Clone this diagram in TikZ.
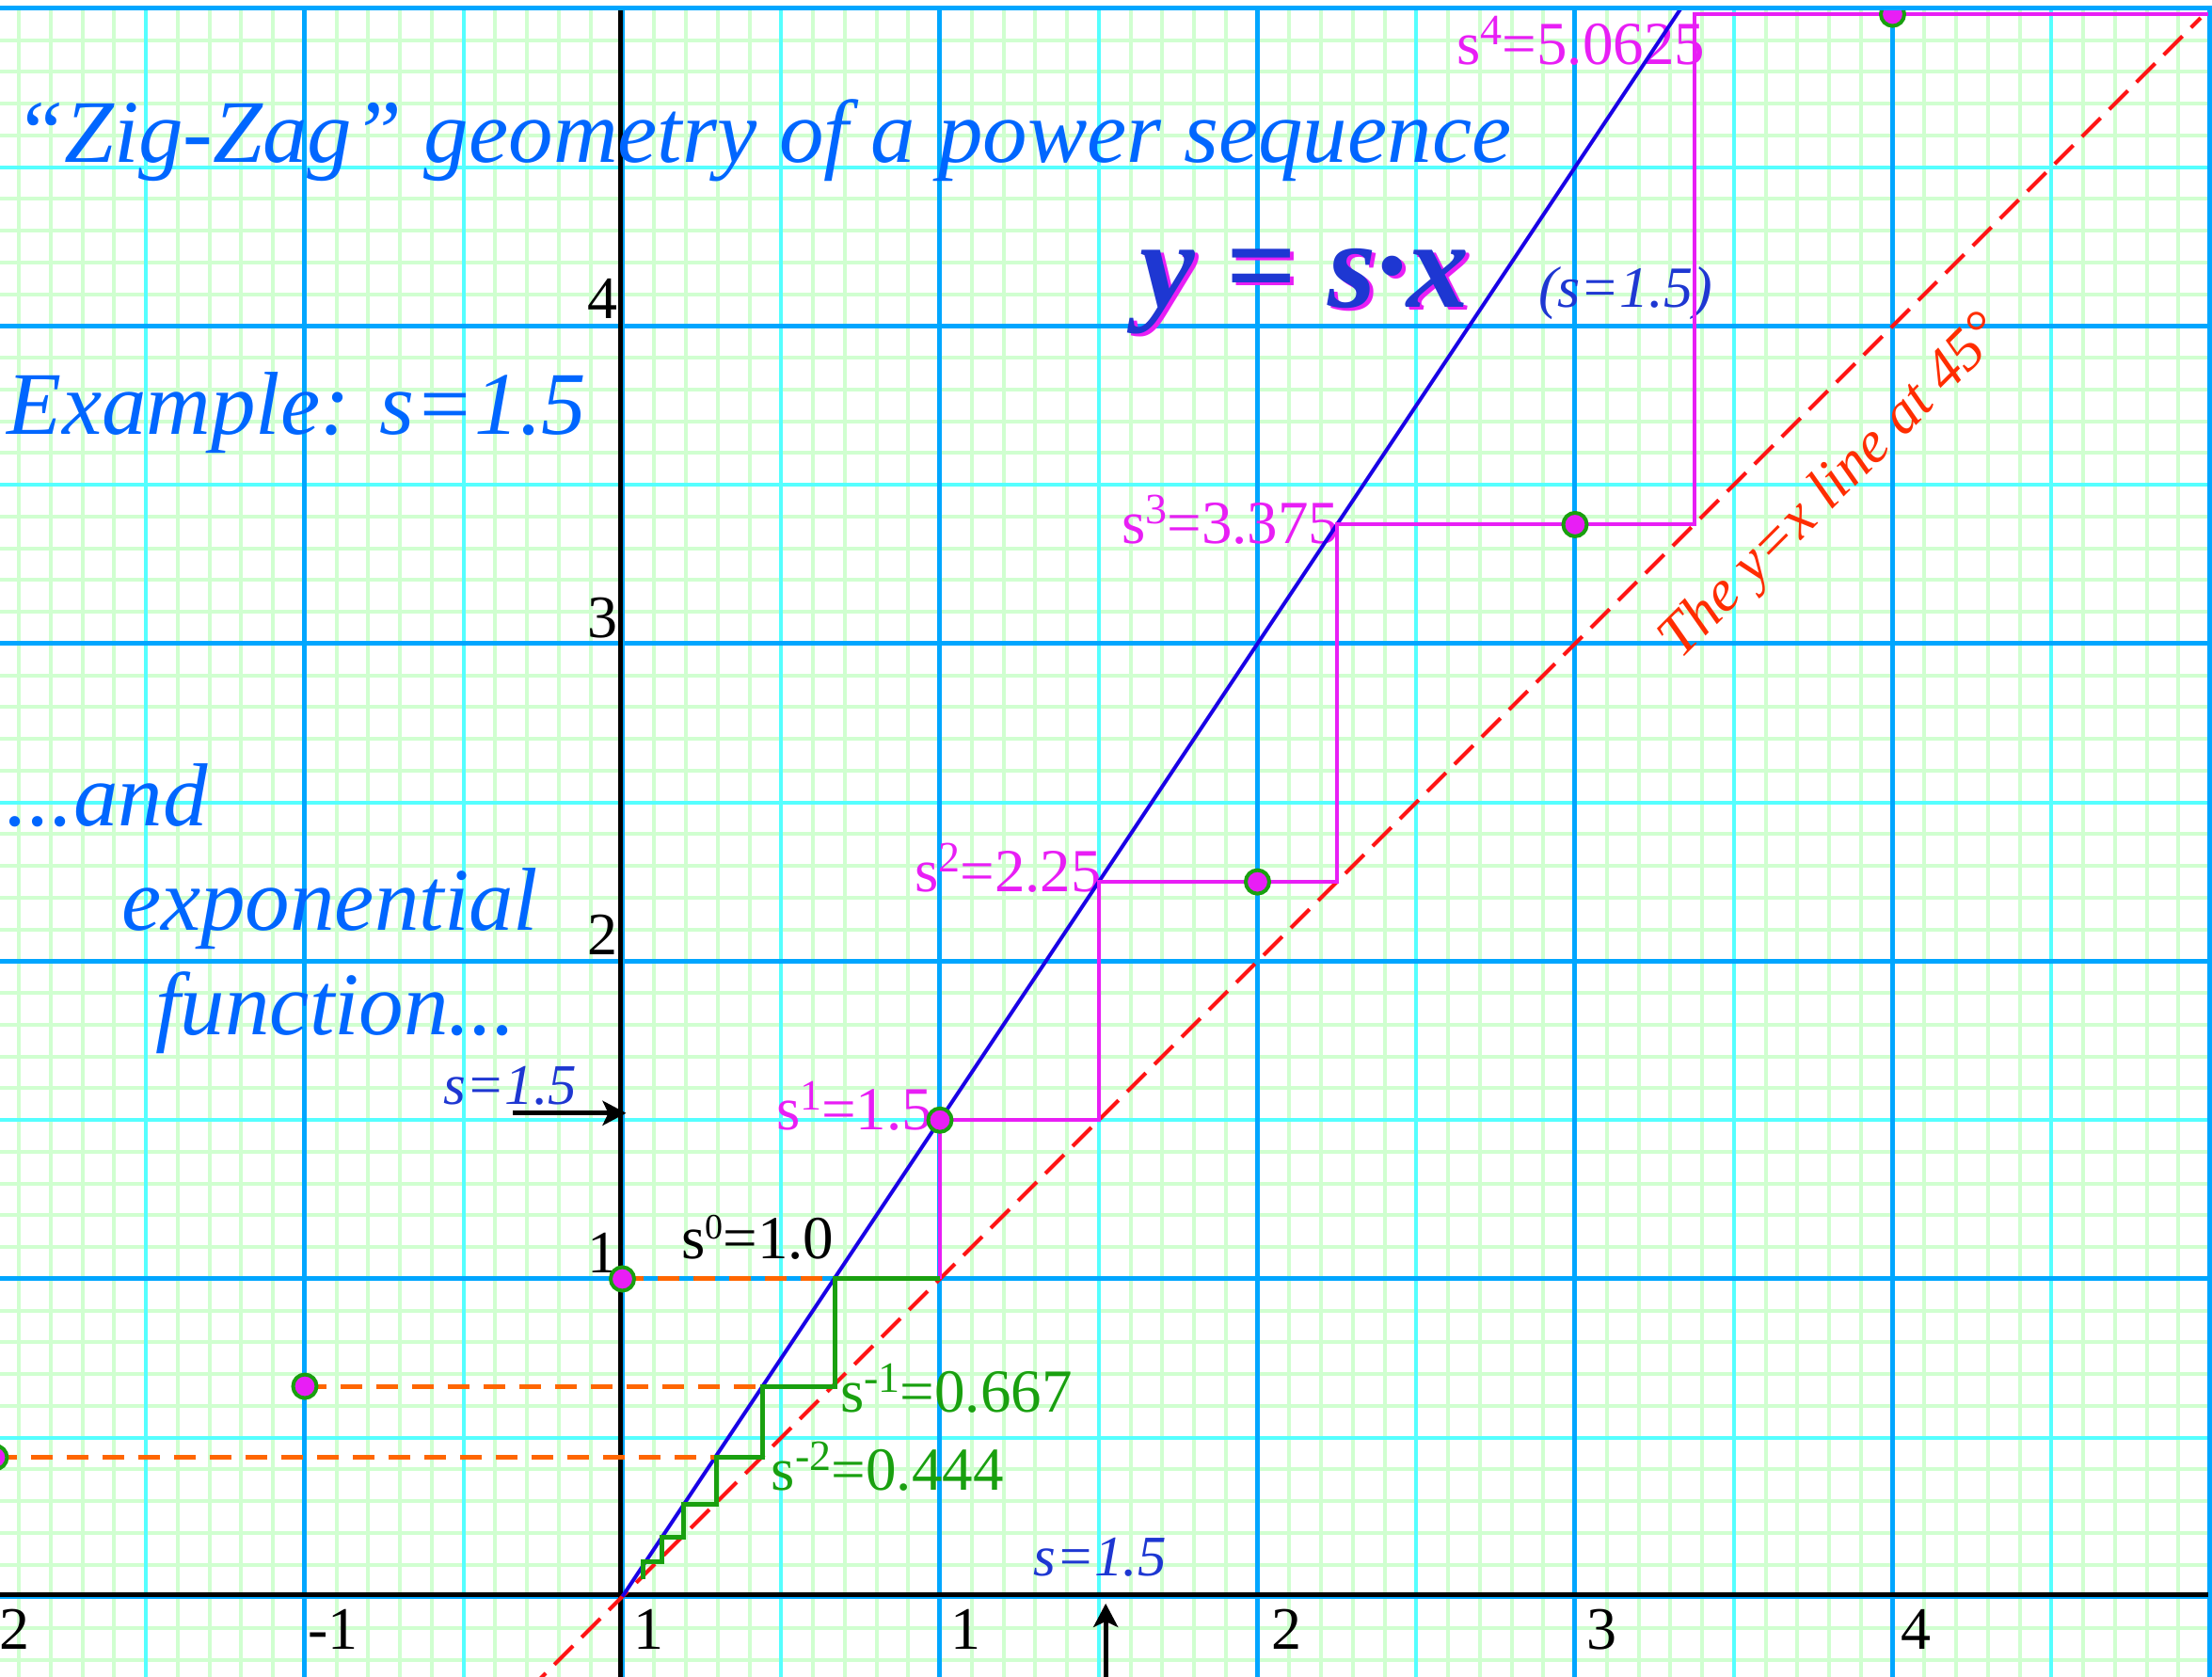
\documentclass[tikz,border=0pt]{standalone}
\usepackage{fontspec}
\setmainfont{Liberation Serif}
\usetikzlibrary{arrows.meta}
\definecolor{minorg}{RGB}{208,255,208}
\definecolor{halfc}{RGB}{85,255,255}
\definecolor{majb}{RGB}{0,166,255}
\definecolor{titleb}{RGB}{0,102,255}
\definecolor{darkb}{RGB}{30,55,210}
\definecolor{linb}{RGB}{25,0,230}
\definecolor{mag}{RGB}{232,30,245}
\definecolor{grn}{RGB}{25,160,15}
\definecolor{org}{RGB}{255,102,0}
\definecolor{redd}{RGB}{255,20,20}
\definecolor{txtred}{RGB}{255,45,0}
\newcommand{\supr}[1]{\raisebox{21pt}{\fontsize{46pt}{46pt}\selectfont #1}}
\newcommand{\supsmall}[1]{\raisebox{21pt}{\fontsize{38pt}{38pt}\selectfont #1}}
\tikzset{
  ttl/.style={inner sep=0pt, anchor=base west, text=titleb, font=\fontsize{95pt}{95pt}\selectfont\itshape},
  lab/.style={inner sep=0pt, anchor=base west, font=\fontsize{65pt}{65pt}\selectfont},
  axlab/.style={inner sep=0pt, text=black, font=\fontsize{64pt}{64pt}\selectfont},
  sval/.style={inner sep=0pt, anchor=base west, text=darkb, font=\fontsize{61pt}{61pt}\selectfont\itshape},
  eqn/.style={inner sep=0pt, anchor=base west, font=\fontsize{132pt}{132pt}\selectfont\bfseries\itshape},
  seqdot/.style={circle, fill=mag, draw=grn, line width=4pt, minimum size=25pt, inner sep=0pt},
  zig/.style={mag, line width=4pt},
  stair/.style={grn, line width=5pt},
  proj/.style={org, line width=5pt, dash pattern=on 23pt off 15pt},
  diag/.style={redd, line width=4pt, dash pattern=on 28pt off 13pt},
  sarrow/.style={black, line width=5pt, -{Stealth[length=25pt,width=26pt,inset=6pt]}}
}
\begin{document}
\begin{tikzpicture}[x=337.5pt,y=337.5pt]
\useasboundingbox[fill=white] (-1.96,-0.2533) rectangle (5.006,5.0267);
\begin{scope}
\clip (-2,-0.3) rectangle (5,5);
% grid
\draw[minorg, line width=4pt] (-2,-0.3) grid[step=0.1] (5,5);
\draw[halfc, line width=4pt] (-2,-0.3) grid[step=0.5] (5,5);
\draw[majb, line width=5pt] (-2,-0.3) grid[step=1] (5,5);
% axes
\draw[black, line width=5pt] (-2,0.006) -- (5,0.006);
\draw[black, line width=5pt] (-0.006,-0.3) -- (-0.006,5);
\end{scope}

% texts
\node[ttl] (title) at (-1.915,4.517) {“Zig-Zag” geometry of a power sequence};
\node[ttl] (example) at (-1.937,3.658) {Example: s=1.5};
\node[ttl] (and) at (-1.94,2.428) {...and};
\node[ttl] (expo) at (-1.578,2.099) {exponential};
\node[ttl] (func) at (-1.47,1.768) {function...};

\node[eqn, text=mag, xshift=4pt, yshift=-3pt] (eqshadow) at (1.63,4.058) {y {\upshape =} s·x};
\node[eqn, text=darkb] (eq) at (1.63,4.058) {y {\upshape =} s·x};
\node[sval, font=\fontsize{62pt}{62pt}\selectfont\itshape] (spar) at (2.884,4.058) {(s=1.5)};

\node[sval] (sleft) at (-0.563,1.551) {s=1.5};
\node[sval] (sbot) at (1.294,0.064) {s=1.5};

\node[inner sep=0pt, anchor=base, rotate=45, text=txtred, font=\fontsize{63pt}{63pt}\selectfont\itshape] (diaglab) at (3.845,3.458) {The y=x line at 45°};

% axis labels
\node[axlab, anchor=base west] (xm2) at (-1.962,-0.167) {2};
\node[axlab, anchor=base west] (xm1) at (-0.99,-0.167) {-1};
\node[axlab, anchor=base west] (x0) at (0.034,-0.167) {1};
\node[axlab, anchor=base west] (x1) at (1.033,-0.167) {1};
\node[axlab, anchor=base west] (x2) at (2.043,-0.167) {2};
\node[axlab, anchor=base west] (x3) at (3.036,-0.167) {3};
\node[axlab, anchor=base west] (x4) at (4.025,-0.167) {4};
\node[axlab, anchor=base east] (y1) at (-0.015,1.02) {1};
\node[axlab, anchor=base east] (y2) at (-0.015,2.022) {2};
\node[axlab, anchor=base east] (y3) at (-0.015,3.02) {3};
\node[axlab, anchor=base east] (y4) at (-0.015,4.025) {4};

% sequence labels
\node[lab, text=black] (s0) at (0.185,1.065) {s\supsmall{0}=1.0};
\node[lab, text=mag] (s1) at (0.484,1.471) {s\supr{1}=1.5};
\node[lab, text=mag] (s2) at (0.92,2.218) {s\supr{2}=2.25};
\node[lab, text=mag] (s3) at (1.572,3.316) {s\supr{3}=3.375};
\node[lab, text=mag] (s4) at (2.627,4.825) {s\supr{4}=5.0625};
\node[lab, text=grn] (sm1) at (0.686,0.582) {s\supr{-1}=0.667};
\node[lab, text=grn] (sm2) at (0.469,0.336) {s\supr{-2}=0.444};

\begin{scope}
\clip (-2,-0.3) rectangle (5,5);
% y = x
\draw[diag] (-0.3,-0.3) -- (4.97,4.97);
% y = 1.5 x
\draw[linb, line width=4pt] (0,0) -- (3.4,5.1);
% zig-zag upward
\draw[zig] (1,1) -- (1,1.5) -- (1.5,1.5) -- (1.5,2.25) -- (2.25,2.25) -- (2.25,3.375) -- (3.375,3.375) -- (3.375,4.982) -- (5,4.982);
% orange projections
\draw[proj] (0,1) -- (0.667,1);
\draw[proj] (-1,0.662) -- (0.442,0.662);
\draw[proj] (-1.975,0.438) -- (0.295,0.438);
% staircase downward
\draw[stair] (1,1) -- (0.669,1) -- (0.669,0.662) -- (0.442,0.662) -- (0.442,0.438) -- (0.295,0.438) -- (0.295,0.289) -- (0.192,0.289) -- (0.192,0.187) -- (0.123,0.187) -- (0.123,0.11) -- (0.066,0.11) -- (0.066,0.055);
% points (n, s^n)
\node[seqdot] (p0) at (0,1) {};
\node[seqdot] (p1) at (1,1.5) {};
\node[seqdot] (p2) at (2,2.25) {};
\node[seqdot] (p3) at (3,3.375) {};
\node[seqdot] (p4) at (4,4.982) {};
\node[seqdot] (pm1) at (-1,0.662) {};
\node[seqdot] (pm2) at (-1.975,0.438) {};
\end{scope}
% frame
\draw[majb, line width=5pt] (-2,5) -- (5,5) -- (5,-0.3);

% arrows marking s
\coordinate (al0) at (-0.345,1.522);
\coordinate (al1) at (0.012,1.522);
\draw[sarrow] (al0) -- (al1);
\coordinate (ab0) at (1.522,-0.3);
\coordinate (ab1) at (1.522,-0.022);
\draw[sarrow] (ab0) -- (ab1);
\end{tikzpicture}
\end{document}
